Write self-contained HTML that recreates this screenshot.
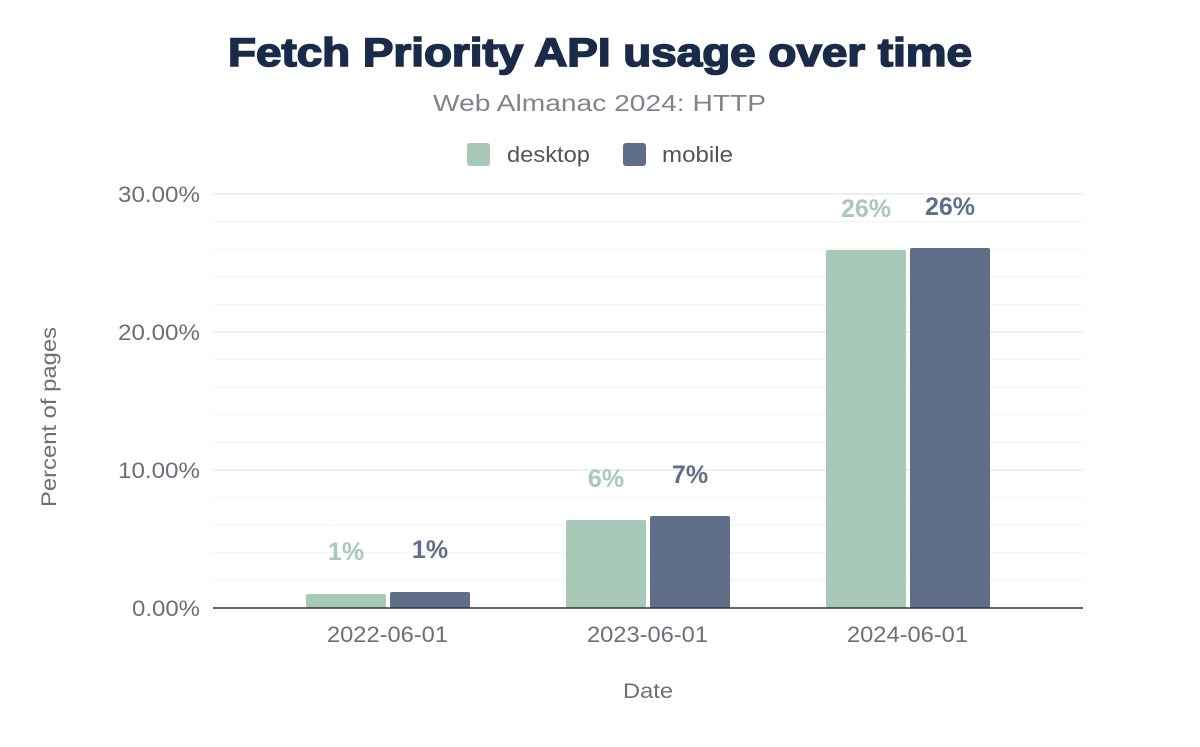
<!DOCTYPE html>
<html><head><meta charset="utf-8"><style>
body{margin:0;background:#fff;width:1200px;height:742px;overflow:hidden}
svg text{font-family:"Liberation Sans",sans-serif}
</style></head><body>
<svg width="1200" height="742" xmlns="http://www.w3.org/2000/svg">
<text x="228" y="66" font-size="40" font-weight="900" fill="#1a2b4a" stroke="#1a2b4a" stroke-width="1.6" textLength="744" lengthAdjust="spacingAndGlyphs">Fetch Priority API usage over time</text>
<text x="433" y="111" font-size="23" fill="#80848c" textLength="333" lengthAdjust="spacingAndGlyphs">Web Almanac 2024: HTTP</text>
<rect x="467" y="143" width="23" height="23" rx="3" fill="#a8c8b8"/>
<text x="507" y="162" font-size="22" fill="#555" textLength="83" lengthAdjust="spacingAndGlyphs">desktop</text>
<rect x="623" y="143" width="23" height="23" rx="3" fill="#5f6f8a"/>
<text x="662" y="162" font-size="22" fill="#555" textLength="71" lengthAdjust="spacingAndGlyphs">mobile</text>
<g stroke="#f2f2f2" stroke-width="1">
<line x1="213" x2="1083" y1="221.6" y2="221.6"/><line x1="213" x2="1083" y1="249.2" y2="249.2"/><line x1="213" x2="1083" y1="276.8" y2="276.8"/><line x1="213" x2="1083" y1="304.4" y2="304.4"/>
<line x1="213" x2="1083" y1="359.6" y2="359.6"/><line x1="213" x2="1083" y1="387.2" y2="387.2"/><line x1="213" x2="1083" y1="414.8" y2="414.8"/><line x1="213" x2="1083" y1="442.4" y2="442.4"/>
<line x1="213" x2="1083" y1="497.6" y2="497.6"/><line x1="213" x2="1083" y1="525.2" y2="525.2"/><line x1="213" x2="1083" y1="552.8" y2="552.8"/><line x1="213" x2="1083" y1="580.4" y2="580.4"/>
</g>
<g stroke="#eeeeee" stroke-width="2">
<line x1="213" x2="1083" y1="194" y2="194"/><line x1="213" x2="1083" y1="332" y2="332"/><line x1="213" x2="1083" y1="470" y2="470"/>
</g>
<g font-size="22" fill="#6b6f78">
<text x="118" y="202" textLength="82" lengthAdjust="spacingAndGlyphs">30.00%</text>
<text x="118" y="340" textLength="82" lengthAdjust="spacingAndGlyphs">20.00%</text>
<text x="118" y="478" textLength="82" lengthAdjust="spacingAndGlyphs">10.00%</text>
<text x="132" y="616" textLength="68" lengthAdjust="spacingAndGlyphs">0.00%</text>
</g>
<text transform="translate(56,507) rotate(-90)" font-size="21" fill="#6b6f78" textLength="180" lengthAdjust="spacingAndGlyphs">Percent of pages</text>
<g fill="#a8c8b8">
<rect x="306" y="594" width="80" height="14" rx="2"/><rect x="566" y="520" width="80" height="88" rx="2"/><rect x="826" y="250" width="80" height="358" rx="2"/>
</g>
<g fill="#5f6f8a">
<rect x="390" y="592" width="80" height="16" rx="2"/><rect x="650" y="516" width="80" height="92" rx="2"/><rect x="910" y="248" width="80" height="360" rx="2"/>
</g>
<line x1="213" x2="1083" y1="608" y2="608" stroke="#333" stroke-width="1.5"/>
<g font-size="25" font-weight="bold" text-anchor="middle">
<text x="346" y="560" fill="#a8c8b8">1%</text><text x="430" y="558" fill="#5f6f8a">1%</text>
<text x="606" y="487" fill="#a8c8b8">6%</text><text x="690" y="483" fill="#5f6f8a">7%</text>
<text x="866" y="217" fill="#a8c8b8">26%</text><text x="950" y="215" fill="#5f6f8a">26%</text>
</g>
<g font-size="22" fill="#6b6f78">
<text x="327" y="642" textLength="121" lengthAdjust="spacingAndGlyphs">2022-06-01</text>
<text x="587" y="642" textLength="121" lengthAdjust="spacingAndGlyphs">2023-06-01</text>
<text x="847" y="642" textLength="121" lengthAdjust="spacingAndGlyphs">2024-06-01</text>
</g>
<text x="623" y="698" font-size="21" fill="#6b6f78" textLength="50" lengthAdjust="spacingAndGlyphs">Date</text>
</svg>
</body></html>
